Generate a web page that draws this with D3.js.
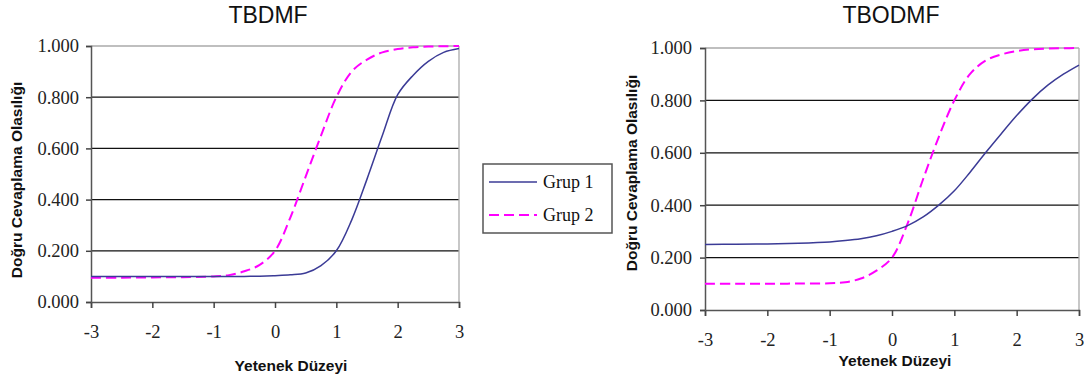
<!DOCTYPE html>
<meta charset="utf-8">
<style>
  body { margin: 0; background: #fff; }
  .tick text { font-family: "Liberation Serif", "Times New Roman", serif; font-size: 18.5px; fill: #222; }
  .title { font-family: "Liberation Sans", Arial, sans-serif; font-size: 23px; fill: #111; }
  .axtitle { font-family: "Liberation Sans", Arial, sans-serif; font-size: 15.5px; font-weight: bold; fill: #111; }
  .legend text { font-family: "Liberation Serif", "Times New Roman", serif; font-size: 18px; fill: #111; }
</style>
<body>
<svg width="1084" height="381"></svg>
<script src="https://d3js.org/d3.v7.min.js"></script>
<script>

var theta = [-3, -2.5, -2, -1.5, -1, -0.75, -0.5, -0.25, 0, 0.25, 0.5, 0.75, 1, 1.25, 1.5, 1.75, 2, 2.25, 2.5, 2.75, 3];

// TBDMF
var tbdmfGrup1 = [0.100, 0.100, 0.100, 0.100, 0.100, 0.100, 0.100, 0.101, 0.103, 0.106, 0.113, 0.142, 0.200, 0.320, 0.480, 0.650, 0.810, 0.885, 0.940, 0.975, 0.990];
var tbdmfGrup2 = [0.095, 0.095, 0.096, 0.097, 0.100, 0.105, 0.120, 0.145, 0.200, 0.330, 0.490, 0.650, 0.800, 0.900, 0.947, 0.975, 0.988, 0.995, 0.998, 0.999, 1.000];

// TBODMF
var tbodmfGrup1 = [0.250, 0.251, 0.252, 0.255, 0.260, 0.265, 0.272, 0.283, 0.300, 0.322, 0.355, 0.400, 0.455, 0.525, 0.600, 0.672, 0.742, 0.805, 0.858, 0.900, 0.935];
var tbodmfGrup2 = [0.100, 0.100, 0.100, 0.101, 0.102, 0.106, 0.120, 0.150, 0.200, 0.330, 0.500, 0.660, 0.800, 0.900, 0.952, 0.975, 0.988, 0.995, 0.998, 0.999, 1.000];

var xTicks = [-3, -2, -1, 0, 1, 2, 3];
var yTicks = [0, 0.2, 0.4, 0.6, 0.8, 1.0];
var seriesNames = ["Grup 1", "Grup 2"];
var colors = ["#3b3b96", "#ff00ff"];

var svg = d3.select("svg");

function drawChart(opt) {
  var x = d3.scaleLinear().domain([-3, 3]).range([opt.left, opt.right]);
  var y = d3.scaleLinear().domain([0, 1]).range([opt.bottom, opt.top]);
  var g = svg.append("g");

  // grid lines
  g.selectAll(".grid").data(yTicks.slice(1, 5)).enter().append("line")
    .attr("x1", opt.left).attr("x2", opt.right)
    .attr("y1", d => y(d)).attr("y2", d => y(d))
    .attr("stroke", "#111").attr("stroke-width", 1.3);
  // top and right border
  g.append("line").attr("x1", opt.left).attr("x2", opt.right)
    .attr("y1", y(1)).attr("y2", y(1)).attr("stroke", "#aaa").attr("stroke-width", 1.3);
  g.append("line").attr("x1", opt.right).attr("x2", opt.right)
    .attr("y1", y(1)).attr("y2", y(0)).attr("stroke", "#aaa").attr("stroke-width", 1.3);

  var xAxis = g.append("g").attr("transform", "translate(0," + opt.bottom + ")")
    .call(d3.axisBottom(x).tickValues(xTicks).tickFormat(d => String(d)).tickSize(6).tickPadding(17));
  var yAxis = g.append("g").attr("transform", "translate(" + opt.left + ",0)")
    .call(d3.axisLeft(y).tickValues(yTicks).tickFormat(d3.format(".3f")).tickSize(5).tickPadding(opt.yPad));
  [xAxis, yAxis].forEach(function (a) {
    a.select(".domain").attr("stroke", "#555").attr("stroke-width", 1.5);
    a.selectAll(".tick line").attr("stroke", "#444").attr("stroke-width", 1.5);
  });

  var line = d3.line().x((d, i) => x(theta[i])).y(d => y(d)).curve(d3.curveCatmullRom.alpha(0.5));
  g.append("path").datum(opt.g2).attr("d", line).attr("fill", "none")
    .attr("stroke", colors[1]).attr("stroke-width", 2).attr("stroke-dasharray", "10,5");
  g.append("path").datum(opt.g1).attr("d", line).attr("fill", "none")
    .attr("stroke", colors[0]).attr("stroke-width", 1.5);

  g.append("text").attr("class", "title").attr("x", opt.titleX).attr("y", 23)
    .attr("text-anchor", "middle").text(opt.title);
  g.append("text").attr("class", "axtitle").attr("x", opt.xTitleX).attr("y", opt.xTitleY)
    .attr("text-anchor", "middle").text("Yetenek Düzeyi");
  g.append("text").attr("class", "axtitle").attr("text-anchor", "middle")
    .attr("transform", "translate(" + opt.yTitleX + "," + opt.yTitleY + ") rotate(-90)")
    .text("Doğru Cevaplama Olasılığı");
}

drawChart({ title: "TBDMF", left: 91, right: 459, top: 46, bottom: 302, yPad: 7,
  titleX: 268, xTitleX: 291, xTitleY: 371, yTitleX: 22, yTitleY: 180,
  g1: tbdmfGrup1, g2: tbdmfGrup2 });
drawChart({ title: "TBODMF", left: 705, right: 1079, top: 48, bottom: 310, yPad: 8,
  titleX: 891, xTitleX: 895, xTitleY: 366, yTitleX: 637, yTitleY: 173,
  g1: tbodmfGrup1, g2: tbodmfGrup2 });

// legend
var lg = svg.append("g").attr("class", "legend");
lg.append("rect").attr("x", 483).attr("y", 164).attr("width", 129).attr("height", 69)
  .attr("fill", "#fff").attr("stroke", "#555").attr("stroke-width", 1.5);
seriesNames.forEach(function (name, i) {
  var yy = 182 + i * 33;
  lg.append("line").attr("x1", 489).attr("x2", 537).attr("y1", yy).attr("y2", yy)
    .attr("stroke", colors[i]).attr("stroke-width", i ? 2 : 1.5)
    .attr("stroke-dasharray", i ? "10,5" : null);
  lg.append("text").attr("x", 543).attr("y", yy + 6).text(name);
});

</script>
</body>
